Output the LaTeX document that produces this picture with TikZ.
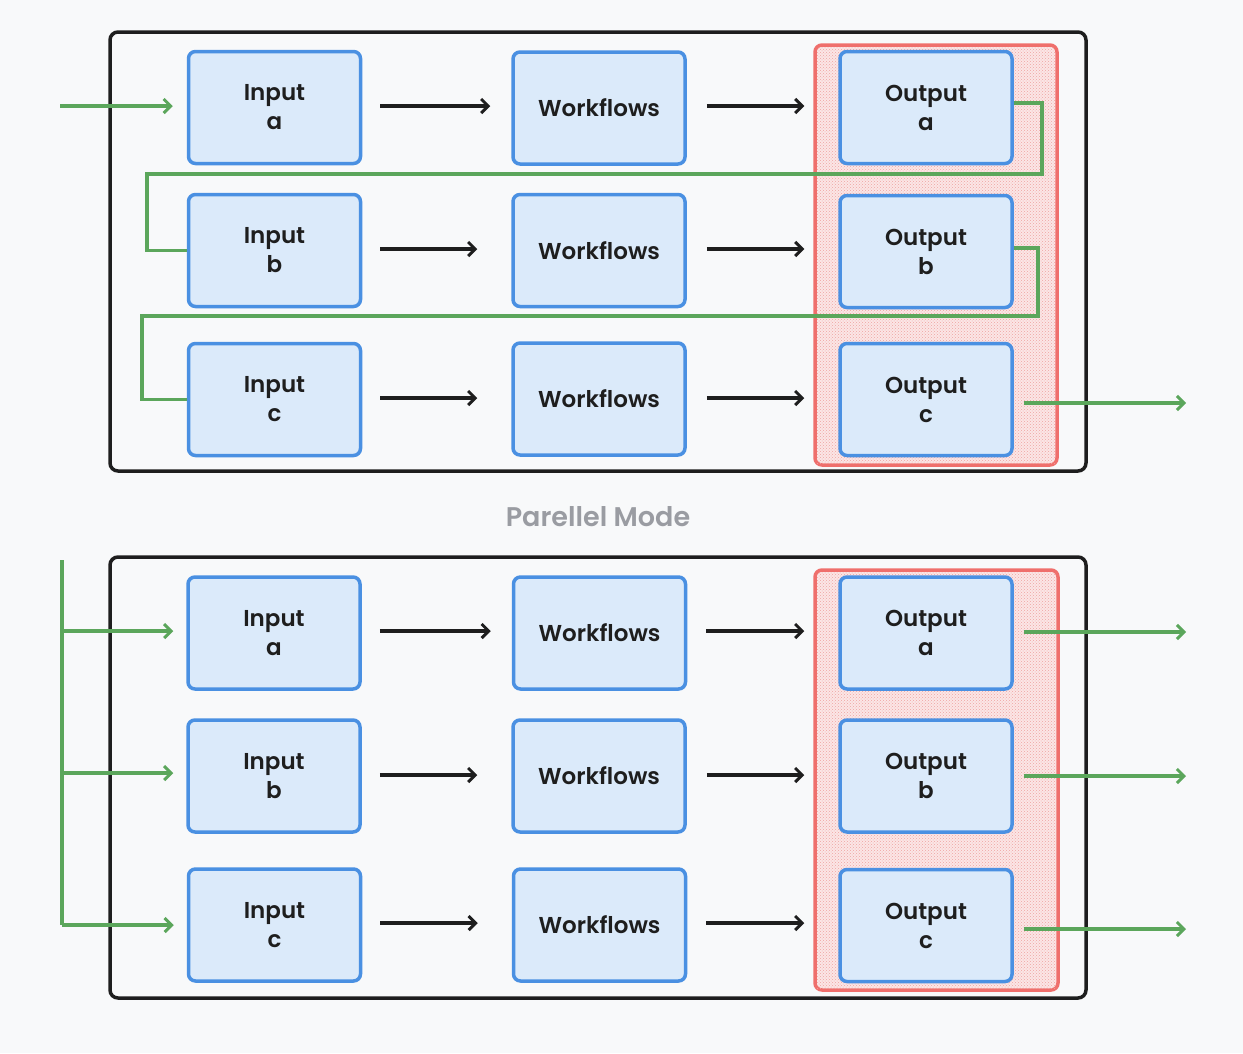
\documentclass[tikz,border=0pt]{standalone}
\usepackage{fontspec}
\setmainfont{Poppins}[UprightFont={* Medium}, BoldFont={* SemiBold}]
\usetikzlibrary{arrows.meta,calc,patterns}
\definecolor{bg}{HTML}{F8F9FA}
\definecolor{frame}{HTML}{1E1E1E}
\definecolor{bblue}{HTML}{4A90E2}
\definecolor{fblue}{HTML}{DBEAFA}
\definecolor{rred}{HTML}{EF6F6C}
\definecolor{rfill}{HTML}{FBE6E6}
\definecolor{rdot}{HTML}{F0A3A1}
\definecolor{ggreen}{HTML}{5BA65B}
\definecolor{tgrey}{HTML}{9A9CA2}
\tikzset{
  box/.style={draw=bblue, fill=fblue, line width=3.5pt, rounded corners=7pt,
    minimum width=172pt, minimum height=112pt, inner sep=0pt, align=center,
    font=\fontsize{23}{29}\selectfont\bfseries, text=frame},
  framebox/.style={draw=frame, line width=3.5pt, rounded corners=8pt},
  redbox/.style={draw=rred, line width=3.5pt, rounded corners=7pt, fill=rfill},
  barrow/.style={draw=frame, line width=3.2pt, -{Straight Barb[length=7pt,width=14pt,line width=3pt]}},
  garrow/.style={draw=ggreen, line width=3.2pt, -{Straight Barb[length=7pt,width=14pt,line width=3pt]}},
  gline/.style={draw=ggreen, line width=3.2pt},
}
\begin{document}
\begin{tikzpicture}[x=1pt,y=-1pt]
\useasboundingbox[fill=bg] (0,0) rectangle (1243,1053);

% ---------- top frame ----------
\draw[framebox] (110,32) rectangle (1086,471);
\draw[redbox] (815,45) rectangle (1057,465);
\fill[pattern=crosshatch dots, pattern color=rdot] (817,47) rectangle (1055,463);

\node[box] (ia) at (274.5,107.5) {Input\\a};
\node[box] (ib) at (274.5,250.5) {Input\\b};
\node[box] (ic) at (274.5,399.5) {Input\\c};
\node[box] (wa) at (599,108) {Workflows};
\node[box] (wb) at (599,250.5) {Workflows};
\node[box] (wc) at (599,399) {Workflows};
\node[box] (oa) at (926,107.5) {Output\\a};
\node[box] (ob) at (926,251.5) {Output\\b};
\node[box] (oc) at (926,399.5) {Output\\c};

\draw[barrow] ($(ia.east)+(18,-1.5)$) -- ($(wa.west)+(-21,-2)$);
\draw[barrow] ($(wa.east)+(20,-2)$) -- ($(oa.west)+(-34,-1.5)$);
\draw[barrow] ($(ib.east)+(18,-1.5)$) -- ($(wb.west)+(-34,-1.5)$);
\draw[barrow] ($(wb.east)+(20,-1.5)$) -- ($(ob.west)+(-34,-2.5)$);
\draw[barrow] ($(ic.east)+(18,-1.5)$) -- ($(wc.west)+(-34,-1)$);
\draw[barrow] ($(wc.east)+(20,-1)$) -- ($(oc.west)+(-34,-1.5)$);

\coordinate (tin) at (60,106);
\draw[garrow] (tin) -- ($(ia.west)+(-14,-1.5)$);
\draw[gline] ([yshift=4.5pt]oa.east) -| (1042,174) -| (147,250.5) -- (ib.west);
\draw[gline] ([yshift=3.5pt]ob.east) -| (1038,316) -| (142,399.5) -- (ic.west);
\coordinate (tout) at (1186,403);
\draw[garrow] ($(oc.east)+(10,3.5)$) -- (tout);

% ---------- title ----------
\node[font=\fontsize{27}{32}\selectfont\bfseries, text=tgrey] (title) at (598,517) {Parellel Mode};

% ---------- bottom frame ----------
\draw[framebox] (110,557) rectangle (1086,998);
\draw[redbox] (815,570) rectangle (1058,990);
\fill[pattern=crosshatch dots, pattern color=rdot] (817,572) rectangle (1056,988);

\node[box] (pia) at (274,633) {Input\\a};
\node[box] (pib) at (274,776) {Input\\b};
\node[box] (pic) at (274.5,925) {Input\\c};
\node[box] (pwa) at (599.5,633) {Workflows};
\node[box] (pwb) at (599,776) {Workflows};
\node[box] (pwc) at (599.5,925) {Workflows};
\node[box] (poa) at (926,633) {Output\\a};
\node[box] (pob) at (926,776) {Output\\b};
\node[box] (poc) at (926,925.5) {Output\\c};

\draw[barrow] ($(pia.east)+(18,-2)$) -- ($(pwa.west)+(-21,-2)$);
\draw[barrow] ($(pwa.east)+(19,-2)$) -- ($(poa.west)+(-34,-2)$);
\draw[barrow] ($(pib.east)+(18,-1)$) -- ($(pwb.west)+(-34,-1)$);
\draw[barrow] ($(pwb.east)+(20,-1)$) -- ($(pob.west)+(-34,-1)$);
\draw[barrow] ($(pic.east)+(18,-2)$) -- ($(pwc.west)+(-34,-2)$);
\draw[barrow] ($(pwc.east)+(19,-2)$) -- ($(poc.west)+(-34,-2.5)$);

\coordinate (bt) at (62,560);
\coordinate (bb) at (62,925);
\draw[gline] (bt) -- (bb);
\draw[garrow] (62,631) -- ($(pia.west)+(-13,-2)$);
\draw[garrow] (62,773) -- ($(pib.west)+(-13,-3)$);
\draw[garrow] (bb) -- ($(pic.west)+(-13,0)$);

\coordinate (boa) at (1186,632);
\coordinate (bob) at (1186,776);
\coordinate (boc) at (1186,929);
\draw[garrow] ($(poa.east)+(10,-1)$) -- (boa);
\draw[garrow] ($(pob.east)+(10,0)$) -- (bob);
\draw[garrow] ($(poc.east)+(10,3.5)$) -- (boc);
\end{tikzpicture}
\end{document}
